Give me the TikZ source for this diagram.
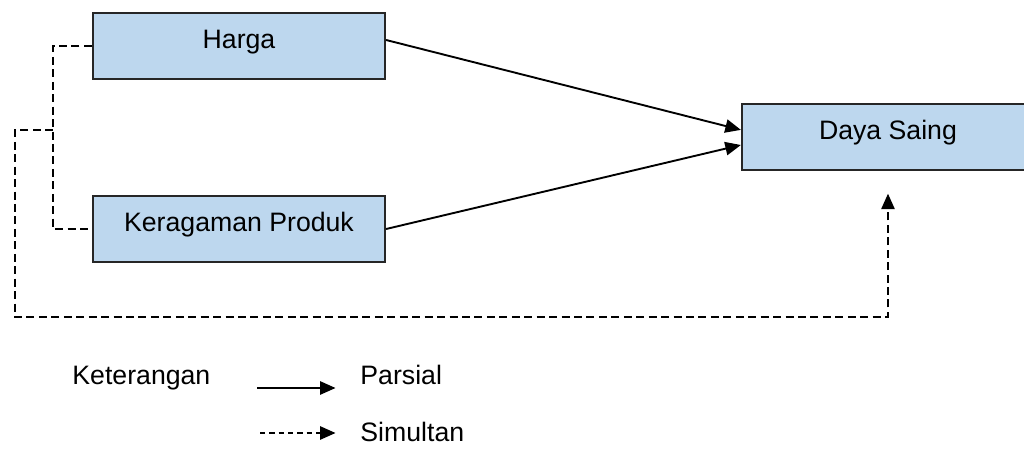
\documentclass[tikz,border=0pt]{standalone}
\usepackage{fontspec}
\setmainfont{Liberation Sans}
\usepackage{tikz}
\usetikzlibrary{arrows.meta, positioning}

\definecolor{boxblue}{RGB}{189,215,238}

\begin{document}
\begin{tikzpicture}[x=0.45pt, y=-0.45pt, font=\fontsize{12}{14}\selectfont,
        varbox/.style={draw=black!85, line width=1pt, fill=boxblue, inner sep=0pt,
            minimum width=131.4pt, minimum height=30pt, text height=8pt, text depth=5.3pt},
        tip/.style={-{Triangle[length=7pt,width=6pt]}},
        parsial/.style={line width=0.85pt, tip},
        simultan/.style={line width=0.85pt, dash pattern=on 3.6pt off 2pt},
        lbl/.style={inner sep=0pt, anchor=base west}]
        \path[use as bounding box, clip] (0,0) rectangle (1024,450);
        % variables
        \node[varbox] (harga) at (239,46) {Harga};
        \node[varbox] (keragaman) at (239,229) {Keragaman Produk\hspace{9pt}};
        \node[varbox] (daya) at (888,137) {Daya Saing};
        % partial effects
        \draw[parsial] ([yshift=2.7pt]harga.east) -- ([yshift=3.2pt]daya.west);
        \draw[parsial] (keragaman.east) -- ([yshift=-3.6pt]daya.west);
        % simultaneous effect
        \coordinate (brk) at (53,130);
        \coordinate (outer) at (15,317);
        \draw[simultan] (harga.west) -| (brk) |- (keragaman.west);
        \draw[simultan, tip] (brk) -| (outer) -| ([yshift=-10pt]daya.south);
        % legend
        \node[lbl] (ket) at (72,385) {Keterangan};
        \node[lbl] (parsialtxt) at (360,385) {Parsial};
        \node[lbl] (simultantxt) at (360,442) {Simultan};
        \coordinate (ps) at (257,388);
        \coordinate (ss) at (260,433);
        \draw[parsial] (ps) -- ([xshift=-11pt]parsialtxt.west |- ps);
        \draw[line width=0.85pt, dash pattern=on 2.4pt off 1.8pt, tip]
            (ss) -- ([xshift=-11pt]simultantxt.west |- ss);
\end{tikzpicture}
\end{document}
